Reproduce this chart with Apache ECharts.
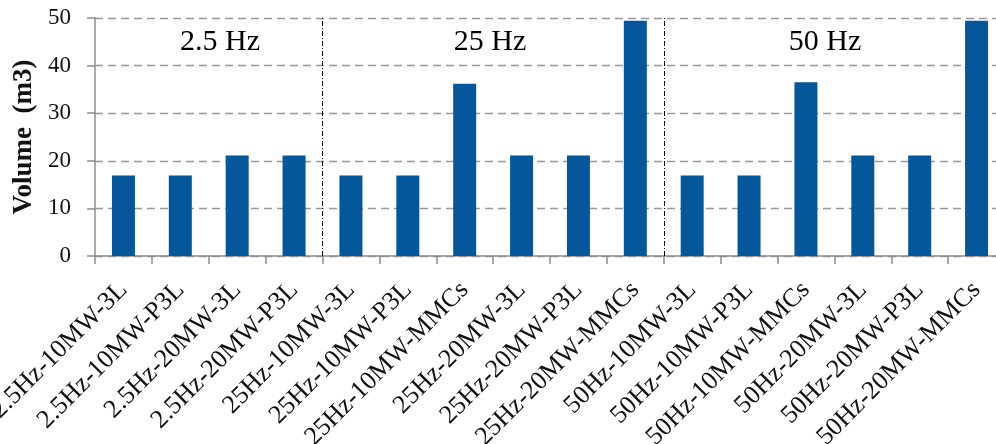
<!DOCTYPE html>
<html>
<head>
<meta charset="utf-8">
<script src="https://cdn.jsdelivr.net/npm/echarts@6/dist/echarts.min.js"></script>
<style>html,body{margin:0;padding:0;background:#fff;}#c{width:996px;height:444px;}</style>
</head>
<body>
<div id="c"></div>
<script>
const categories = [
  '2.5Hz-10MW-3L','2.5Hz-10MW-P3L','2.5Hz-20MW-3L','2.5Hz-20MW-P3L',
  '25Hz-10MW-3L','25Hz-10MW-P3L','25Hz-10MW-MMCs','25Hz-20MW-3L','25Hz-20MW-P3L','25Hz-20MW-MMCs',
  '50Hz-10MW-3L','50Hz-10MW-P3L','50Hz-10MW-MMCs','50Hz-20MW-3L','50Hz-20MW-P3L','50Hz-20MW-MMCs'
];
const volumes = [16.9, 16.9, 21.1, 21.1, 16.9, 16.9, 36.2, 21.1, 21.1, 49.4, 16.9, 16.9, 36.5, 21.1, 21.1, 49.4];
const groupLabels = ['2.5 Hz', '25 Hz', '50 Hz'];
const groupBoundaries = [4, 10];
const yTicks = [0, 10, 20, 30, 40, 50];

const serif = '"Liberation Serif", "Times New Roman", serif';
const chart = echarts.init(document.getElementById('c'), null, {renderer: 'canvas'});

const labelPos = [[220, 42], [490, 42], [825, 42]];

chart.setOption({
  animation: false,
  backgroundColor: '#fff',
  grid: {left: 95, top: 18, bottom: 188, right: -9, containLabel: false, outerBoundsMode: 'none'},
  xAxis: [{
    type: 'category',
    data: categories,
    axisLine: {show: true, lineStyle: {color: '#8c8c8c', width: 1.5}},
    axisTick: {show: true, length: 8, lineStyle: {color: '#8c8c8c', width: 1.5}},
    axisLabel: {rotate: 45, interval: 0, margin: 30, fontFamily: serif, fontSize: 26, color: '#111', hideOverlap: false},
    splitLine: {show: false}
  }, {
    type: 'value', min: 0, max: categories.length, show: false, position: 'bottom'
  }],
  yAxis: {
    type: 'value', min: yTicks[0], max: yTicks[yTicks.length - 1], interval: 10,
    name: 'Volume  (m3)', nameLocation: 'middle', nameGap: 57, nameRotate: 90,
    nameTextStyle: {fontFamily: serif, fontSize: 27, fontWeight: 'bold', color: '#111'},
    axisLine: {show: true, lineStyle: {color: '#8c8c8c', width: 1.5}},
    axisTick: {show: true, length: 8, lineStyle: {color: '#8c8c8c', width: 1.5}},
    axisLabel: {margin: 24, fontFamily: serif, fontSize: 23, color: '#111'},
    splitLine: {show: true, lineStyle: {color: '#999', type: [8, 5], width: 1.3}}
  },
  series: [{
    type: 'bar',
    data: volumes,
    barWidth: 23,
    itemStyle: {color: '#03579a'},
    xAxisIndex: 0
  }, {
    type: 'scatter',
    xAxisIndex: 1,
    data: [],
    silent: true,
    markLine: {
      silent: true, symbol: ['none', 'none'], label: {show: false},
      lineStyle: {color: '#000', width: 1, type: [5, 2, 1, 2]},
      data: groupBoundaries.map(b => ({xAxis: b}))
    }
  }],
  graphic: groupLabels.map((t, i) => ({
    type: 'text', x: labelPos[i][0], y: labelPos[i][1],
    style: {text: t, font: '30px ' + serif, fill: '#000', textAlign: 'center', textVerticalAlign: 'middle'}
  }))
});
</script>
</body>
</html>
